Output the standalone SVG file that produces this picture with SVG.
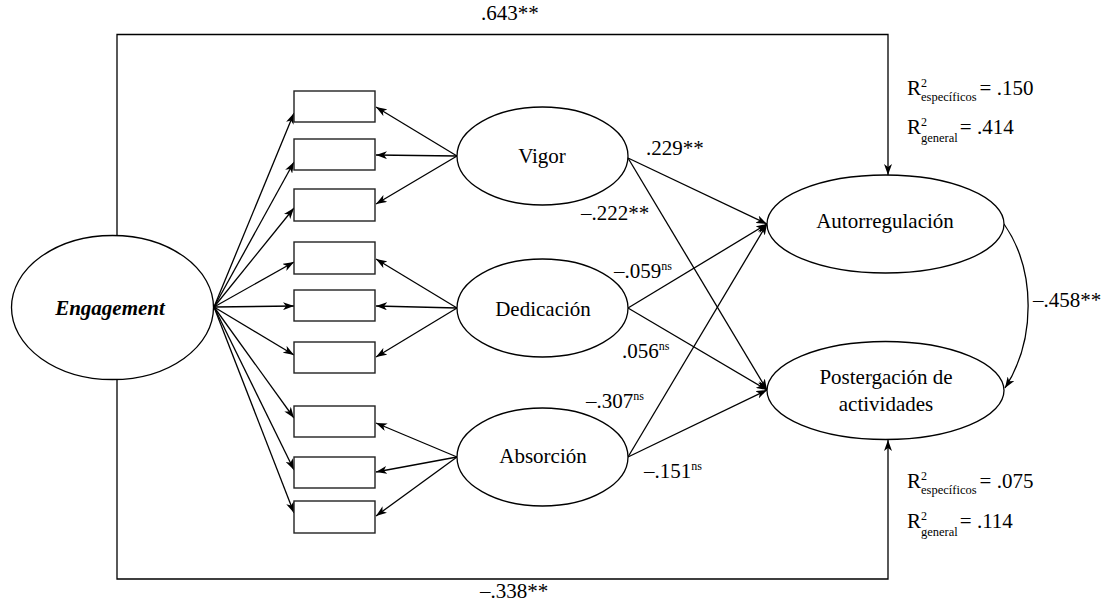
<svg xmlns="http://www.w3.org/2000/svg" width="1105" height="607" viewBox="0 0 1105 607" font-family="Liberation Serif, serif" font-size="21">
<style>
.ar{fill:none;stroke:#000;stroke-width:1.3;marker-end:url(#ah)}
.el{fill:#fff;stroke:#000;stroke-width:1.3}
.bx{fill:#fff;stroke:#222;stroke-width:1.4}
text{font-family:Liberation Serif, serif;font-size:21px;fill:#000}
.c{text-anchor:middle}
.s{font-size:12px}
.sb{font-size:12.5px}
</style>
<defs>
<marker id="ah" markerWidth="12" markerHeight="8" refX="11" refY="4" orient="auto" markerUnits="userSpaceOnUse">
<path d="M0,0 L11,4 L0,8 L3,4 z" fill="#000"/>
</marker>
</defs>
<g id="connectors">
<polyline class="ar" points="117,236 117,34.5 888,34.5 888,175"/>
<polyline class="ar" points="117,379 117,579 888,579 888,440"/>
<line class="ar" x1="214" y1="307" x2="294" y2="113"/>
<line class="ar" x1="214" y1="307" x2="294" y2="162"/>
<line class="ar" x1="214" y1="307" x2="294" y2="208"/>
<line class="ar" x1="214" y1="307" x2="294" y2="262"/>
<line class="ar" x1="214" y1="307" x2="294" y2="306"/>
<line class="ar" x1="214" y1="307" x2="294" y2="355"/>
<line class="ar" x1="214" y1="307" x2="294" y2="418"/>
<line class="ar" x1="214" y1="307" x2="294" y2="470"/>
<line class="ar" x1="214" y1="307" x2="294" y2="513"/>
<line class="ar" x1="457" y1="156" x2="376" y2="107"/>
<line class="ar" x1="457" y1="156" x2="376" y2="155"/>
<line class="ar" x1="457" y1="156" x2="376" y2="204"/>
<line class="ar" x1="457" y1="308" x2="376" y2="259"/>
<line class="ar" x1="457" y1="308" x2="376" y2="306"/>
<line class="ar" x1="457" y1="308" x2="376" y2="357"/>
<line class="ar" x1="457" y1="457" x2="376" y2="423"/>
<line class="ar" x1="457" y1="457" x2="376" y2="472"/>
<line class="ar" x1="457" y1="457" x2="376" y2="516"/>
<line class="ar" x1="628" y1="158" x2="767" y2="224"/>
<line class="ar" x1="628" y1="158" x2="767" y2="390"/>
<line class="ar" x1="628" y1="308" x2="767" y2="224"/>
<line class="ar" x1="628" y1="308" x2="767" y2="390"/>
<line class="ar" x1="628" y1="457" x2="767" y2="224"/>
<line class="ar" x1="628" y1="457" x2="767" y2="390"/>
<path class="ar" d="M1004,224 C1036,270 1036,340 1005,388"/>
</g>
<g id="engagement">
<ellipse class="el" cx="112.5" cy="307.5" rx="101" ry="72"/>
<text class="c" x="110" y="315" font-weight="bold" font-style="italic">Engagement</text>
</g>
<g id="items">
<rect class="bx" x="294" y="91" width="81" height="31"/>
<rect class="bx" x="294" y="139" width="81" height="31"/>
<rect class="bx" x="294" y="189" width="81" height="32"/>
<rect class="bx" x="294" y="242" width="81" height="32"/>
<rect class="bx" x="294" y="290" width="81" height="31"/>
<rect class="bx" x="294" y="342" width="81" height="31"/>
<rect class="bx" x="294" y="406" width="81" height="31"/>
<rect class="bx" x="294" y="457" width="81" height="31"/>
<rect class="bx" x="294" y="501" width="81" height="32"/>
</g>
<g id="vigor">
<ellipse class="el" cx="542.5" cy="156" rx="85.5" ry="49"/>
<text class="c" x="542" y="163">Vigor</text>
</g>
<g id="dedicacion">
<ellipse class="el" cx="542.5" cy="308" rx="85.5" ry="49"/>
<text class="c" x="543" y="316">Dedicación</text>
</g>
<g id="absorcion">
<ellipse class="el" cx="542.5" cy="457" rx="85.5" ry="49"/>
<text class="c" x="543" y="463">Absorción</text>
</g>
<g id="autorregulacion">
<ellipse class="el" cx="885.5" cy="224" rx="118.5" ry="49"/>
<text class="c" x="885" y="228">Autorregulación</text>
</g>
<g id="postergacion">
<ellipse class="el" cx="885.5" cy="390.5" rx="118.5" ry="49"/>
<text class="c" x="886" y="384">Postergación de</text>
<text class="c" x="886" y="411">actividades</text>
</g>
<g id="labels">
<text x="481" y="20">.643**</text>
<text x="480" y="598">–.338**</text>
<text x="646" y="155">.229**</text>
<text x="581" y="220">–.222**</text>
<text x="614" y="278">–.059<tspan class="s" dy="-8">ns</tspan></text>
<text x="622" y="358">.056<tspan class="s" dy="-8">ns</tspan></text>
<text x="586" y="408">–.307<tspan class="s" dy="-8">ns</tspan></text>
<text x="644" y="478">–.151<tspan class="s" dy="-8">ns</tspan></text>
<text x="1033" y="307">–.458**</text>
<text x="907" y="95">R<tspan class="s" dy="-8">2</tspan><tspan class="sb" dx="-6" dy="14">específicos</tspan><tspan dx="3" dy="-6">= .150</tspan></text>
<text x="907" y="134">R<tspan class="s" dy="-8">2</tspan><tspan class="sb" dx="-6" dy="16">general</tspan><tspan dx="2" dy="-8">= .414</tspan></text>
<text x="907" y="488">R<tspan class="s" dy="-8">2</tspan><tspan class="sb" dx="-6" dy="14">específicos</tspan><tspan dx="3" dy="-6">= .075</tspan></text>
<text x="907" y="528">R<tspan class="s" dy="-8">2</tspan><tspan class="sb" dx="-6" dy="16">general</tspan><tspan dx="2" dy="-8">= .114</tspan></text>
</g>
</svg>
